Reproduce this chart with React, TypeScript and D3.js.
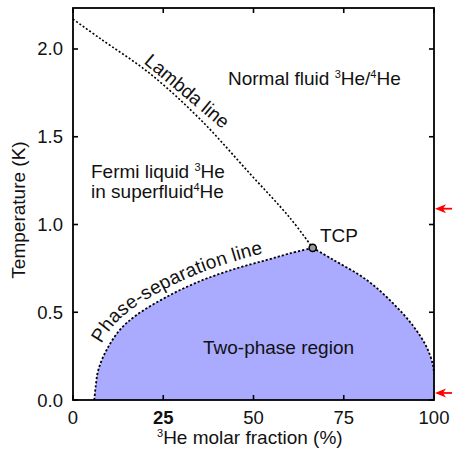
import React from "react";
import * as d3 from "d3";

const W = 452;
const H = 452;

// Axis ticks
const xTicks = [0, 25, 50, 75, 100];
const yTicks = [0, 0.5, 1.0, 1.5, 2.0];
const yTickLabels = ["0.0", "0.5", "1.0", "1.5", "2.0"];

// Lambda line (x = 3He %, T in K)
const lambdaX = [0, 7.5, 21.3, 35.2, 49, 60, 66.4];
const lambdaT = [2.17, 2.06, 1.86, 1.6, 1.29, 1.04, 0.867];

// Phase separation, dilute (left) branch
const leftX = [5.9, 6.3, 7, 9.3, 13, 17.6, 26.9, 36, 45.3, 53.7, 60, 66.4];
const leftT = [0, 0.08, 0.17, 0.285, 0.4, 0.484, 0.598, 0.684, 0.75, 0.798, 0.835, 0.867];

// Phase separation, concentrated (right) branch
const rightX = [66.4, 72, 81.3, 88.7, 94.3, 98, 99.7, 100];
const rightT = [0.867, 0.8, 0.685, 0.55, 0.42, 0.3, 0.2, 0.15];

// Tricritical point
const tcpX = 66.4;
const tcpT = 0.867;

// Red arrows on right side (temperatures)
const arrowT = [1.09, 0.04];

// Curved label pieces
const psWords = ["Phase-", "separation", "line"];

const FONT = "'Liberation Sans', Arial, sans-serif";

export default function App() {
  const left = 73;
  const right = 434;
  const top = 8;
  const bottom = 400;
  const x = d3.scaleLinear().domain([0, 100]).range([left, right]);
  const y = d3.scaleLinear().domain([0, 2.2336]).range([bottom, top]);

  const line = d3
    .line<[number, number]>()
    .x((d) => x(d[0]))
    .y((d) => y(d[1]))
    .curve(d3.curveCatmullRom.alpha(0.5));

  const lambdaPts: [number, number][] = lambdaX.map((v, i) => [v, lambdaT[i]]);
  const leftPts: [number, number][] = leftX.map((v, i) => [v, leftT[i]]);
  const rightPts: [number, number][] = rightX.map((v, i) => [v, rightT[i]]);

  const lambdaPath = line(lambdaPts) || "";
  const leftPath = line(leftPts) || "";
  const rightPath = line(rightPts) || "";
  const fillPath =
    leftPath +
    rightPath.replace(/^M/, "L") +
    `L${x(100)},${y(0)}L${x(leftX[0])},${y(0)}Z`;

  // Offset path (pixel space) above left branch for the curved label
  const px = leftPts.map((d) => [x(d[0]), y(d[1])]);
  const offset = 7.5;
  const offPts: [number, number][] = px.map((p, i) => {
    const a = px[Math.max(0, i - 1)];
    const b = px[Math.min(px.length - 1, i + 1)];
    const dx = b[0] - a[0];
    const dy = b[1] - a[1];
    const len = Math.hypot(dx, dy) || 1;
    const nx = dy / len;
    const ny = -dx / len;
    return [p[0] + nx * offset, p[1] + ny * offset];
  });
  const offPath =
    d3
      .line<[number, number]>()
      .x((d) => d[0])
      .y((d) => d[1])
      .curve(d3.curveCatmullRom.alpha(0.5))(offPts) || "";

  const fs = 19;
  const tfs = 18.5;
  const sup = 11;
  const ls = 0.3;
  // start offsets along the path for each word (Arial advance widths)
  const psOffsets = [58, 58 + 60.2 + 6 * ls, 58 + 60.2 + 6 * ls + 88.7 + 10 * ls + 5.3 + ls];

  return (
    <svg width={W} height={H} style={{ position: "absolute", left: 0, top: 0 }} fontFamily={FONT}>
      <rect x={0} y={0} width={W} height={H} fill="#fff" />
      <defs>
        <path id="psPath" d={offPath} />
      </defs>
      {/* two-phase fill */}
      <path d={fillPath} fill="#aaaaff" stroke="none" />
      {/* curves */}
      <path d={lambdaPath} fill="none" stroke="#000" strokeWidth={1.6} strokeDasharray="2,2" />
      <path d={leftPath} fill="none" stroke="#000" strokeWidth={1.8} strokeDasharray="2.2,2" />
      <path d={rightPath} fill="none" stroke="#000" strokeWidth={1.8} strokeDasharray="2.2,2" />
      {/* TCP marker */}
      <circle cx={x(tcpX)} cy={y(tcpT)} r={3.6} fill="#999" stroke="#000" strokeWidth={1.5} />

      {/* frame */}
      <rect x={left} y={top} width={right - left} height={bottom - top} fill="none" stroke="#000" strokeWidth={1.8} />
      {/* ticks */}
      {xTicks.map((t) => (
        <g key={"xt" + t}>
          <line x1={x(t)} x2={x(t)} y1={bottom} y2={bottom - 5} stroke="#000" strokeWidth={1.6} />
          <line x1={x(t)} x2={x(t)} y1={top} y2={top + 5} stroke="#000" strokeWidth={1.6} />
          <text
            x={x(t)}
            y={424}
            textAnchor="middle"
            fontSize={tfs}
            fontWeight={t === 25 ? "bold" : "normal"}
            fill="#111"
          >
            {t}
          </text>
        </g>
      ))}
      {yTicks.map((t, i) => (
        <g key={"yt" + t}>
          <line x1={left} x2={left + 5} y1={y(t)} y2={y(t)} stroke="#000" strokeWidth={1.6} />
          <line x1={right} x2={right - 5} y1={y(t)} y2={y(t)} stroke="#000" strokeWidth={1.6} />
          <text x={63} y={y(t) + 6.5} textAnchor="end" fontSize={tfs} fill="#111">
            {yTickLabels[i]}
          </text>
        </g>
      ))}

      {/* axis labels */}
      <text x={157} y={444} fontSize={fs} fill="#111">
        <tspan fontSize={sup} dy={-7}>3</tspan>
        <tspan dy={7}>He molar fraction (%)</tspan>
      </text>
      <text
        transform={`translate(25,${(top + bottom) / 2 + 6}) rotate(-90)`}
        textAnchor="middle"
        fontSize={fs}
        fill="#111"
      >
        Temperature (K)
      </text>

      {/* region labels */}
      <text x={228} y={85} fontSize={fs} fill="#111">
        <tspan>Normal fluid </tspan>
        <tspan fontSize={sup} dy={-7}>3</tspan>
        <tspan dy={7}>He/</tspan>
        <tspan fontSize={sup} dy={-7}>4</tspan>
        <tspan dy={7}>He</tspan>
      </text>
      <text x={91} y={178} fontSize={fs} fill="#111">
        <tspan>Fermi liquid </tspan>
        <tspan fontSize={sup} dy={-7}>3</tspan>
        <tspan dy={7}>He</tspan>
      </text>
      <text x={91} y={198} fontSize={fs} fill="#111">
        <tspan>in superfluid</tspan>
        <tspan fontSize={sup} dy={-7}>4</tspan>
        <tspan dy={7}>He</tspan>
      </text>
      <text
        transform={`translate(183,96) rotate(40)`}
        textAnchor="middle"
        fontSize={fs}
        fill="#111"
      >
        Lambda line
      </text>
      {psWords.map((w, i) => (
        <text key={"ps" + i} fontSize={fs} fill="#111" letterSpacing={ls}>
          <textPath href="#psPath" startOffset={psOffsets[i]}>
            {w}
          </textPath>
        </text>
      ))}
      <text x={320} y={242} fontSize={fs} fill="#111">
        TCP
      </text>
      <text x={203} y={354} fontSize={fs} fill="#111">
        Two-phase region
      </text>

      {/* red arrows */}
      {arrowT.map((t, i) => (
        <g key={"ar" + i}>
          <line x1={x(100) + 8} x2={W} y1={y(t)} y2={y(t)} stroke="#ff0000" strokeWidth={1.8} />
          <path
            d={`M${x(100) + 1},${y(t)} L${x(100) + 12},${y(t) - 4.5} L${x(100) + 9},${y(t)} L${x(100) + 12},${y(t) + 4.5} Z`}
            fill="#ff0000"
          />
        </g>
      ))}
    </svg>
  );
}
